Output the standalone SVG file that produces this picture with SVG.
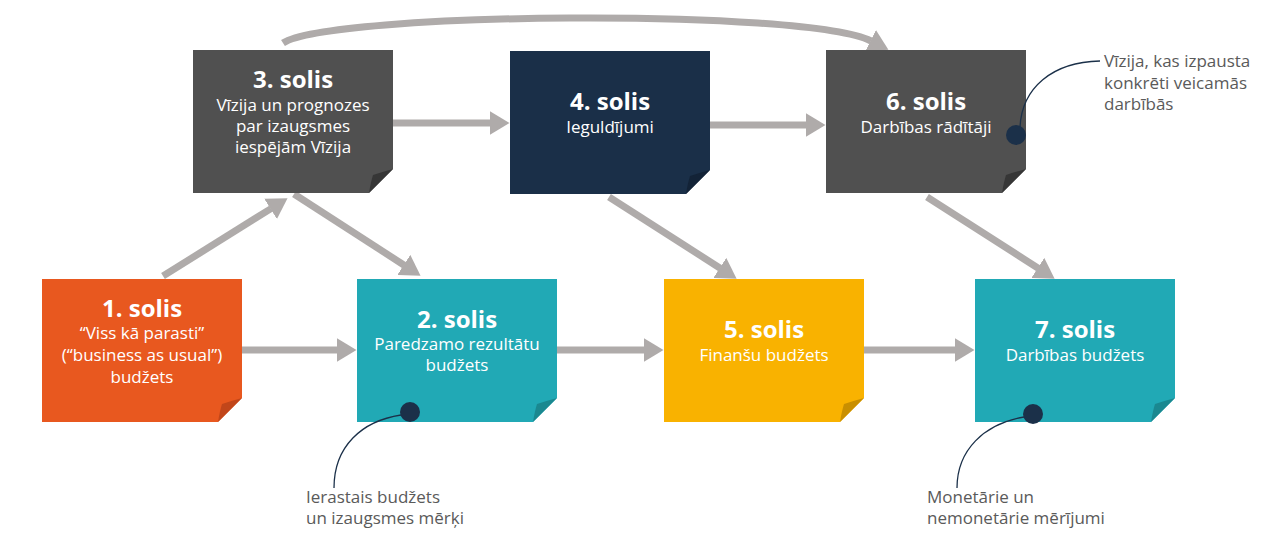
<svg xmlns="http://www.w3.org/2000/svg" width="1264" height="548" viewBox="0 0 1264 548">
<style>
.t{font-family:"Open Sans","Noto Sans","Liberation Sans",sans-serif;font-weight:700;font-size:24px;fill:#fff;text-anchor:middle}
.s{font-family:"Open Sans","Noto Sans","Liberation Sans",sans-serif;font-size:17px;fill:#fff;text-anchor:middle}
.c{font-family:"Open Sans","Noto Sans","Liberation Sans",sans-serif;font-size:17px;fill:#5a5a5a}
.arr{fill:none;stroke:#afabaa;stroke-width:7;marker-end:url(#ah)}
.lead{fill:none;stroke:#1b3049;stroke-width:1.3}
.dot{fill:#1b3049}
</style>
<defs>
<marker id="ah" viewBox="0 0 20 24" refX="0.5" refY="12" markerWidth="20" markerHeight="24" markerUnits="userSpaceOnUse" orient="auto">
<path d="M0,0 L20,12 L0,24 Z" fill="#afabaa"/>
</marker>
</defs>
<rect width="1264" height="548" fill="#fff"/>

<g id="connectors">
<path class="arr" d="M283,43 C330,12 805,8 871,41"/>
<line class="arr" x1="242" y1="350" x2="337" y2="350"/>
<line class="arr" x1="557" y1="350" x2="644" y2="350"/>
<line class="arr" x1="864" y1="350" x2="955" y2="350"/>
<line class="arr" x1="393" y1="123" x2="490" y2="123"/>
<line class="arr" x1="710" y1="125" x2="806" y2="125"/>
<line class="arr" x1="163" y1="276" x2="271" y2="208.6"/>
<line class="arr" x1="294" y1="194" x2="404.2" y2="265.2"/>
<line class="arr" x1="609" y1="197" x2="720.2" y2="268.2"/>
<line class="arr" x1="927" y1="197" x2="1038.2" y2="268.2"/>
</g>

<g id="step1">
<path d="M42,279 H242 V398 L218,422 H42 Z" fill="#e8581f"/>
<path d="M242,398 L218,422 Q220,410 222,404 Q231,401 242,398 Z" fill="#c1461a"/>
<text class="t" x="142" y="317">1. solis</text>
<text class="s" x="142" y="339">“Viss kā parasti”</text>
<text class="s" x="142" y="361">(“business as usual”)</text>
<text class="s" x="142" y="383">budžets</text>
</g>

<g id="step2">
<path d="M357,279 H557 V398 L533,422 H357 Z" fill="#21a9b5"/>
<path d="M557,398 L533,422 Q535,410 537,404 Q546,401 557,398 Z" fill="#1a8890"/>
<text class="t" x="457" y="328">2. solis</text>
<text class="s" x="457" y="350">Paredzamo rezultātu</text>
<text class="s" x="457" y="371">budžets</text>
</g>

<g id="step3">
<path d="M193,50 H393 V169 L369,193 H193 Z" fill="#505050"/>
<path d="M393,169 L369,193 Q371,181 373,175 Q382,172 393,169 Z" fill="#363636"/>
<text class="t" x="293" y="88">3. solis</text>
<text class="s" x="293" y="111">Vīzija un prognozes</text>
<text class="s" x="293" y="132">par izaugsmes</text>
<text class="s" x="293" y="153">iespējām Vīzija</text>
</g>

<g id="step4">
<path d="M510,51 H710 V170 L686,194 H510 Z" fill="#1a2f48"/>
<path d="M710,170 L686,194 Q688,182 690,176 Q699,173 710,170 Z" fill="#132337"/>
<text class="t" x="610" y="110">4. solis</text>
<text class="s" x="610" y="133">Ieguldījumi</text>
</g>

<g id="step5">
<path d="M664,279 H864 V398 L840,422 H664 Z" fill="#f9b200"/>
<path d="M864,398 L840,422 Q842,410 844,404 Q853,401 864,398 Z" fill="#c98f00"/>
<text class="t" x="764" y="338">5. solis</text>
<text class="s" x="764" y="361">Finanšu budžets</text>
</g>

<g id="step6">
<path d="M826,50 H1026 V169 L1002,193 H826 Z" fill="#505050"/>
<path d="M1026,169 L1002,193 Q1004,181 1006,175 Q1015,172 1026,169 Z" fill="#363636"/>
<text class="t" x="926" y="110">6. solis</text>
<text class="s" x="926" y="133">Darbības rādītāji</text>
</g>

<g id="step7">
<path d="M975,279 H1175 V398 L1151,422 H975 Z" fill="#21a9b5"/>
<path d="M1175,398 L1151,422 Q1153,410 1155,404 Q1164,401 1175,398 Z" fill="#1a8890"/>
<text class="t" x="1075" y="338">7. solis</text>
<text class="s" x="1075" y="361">Darbības budžets</text>
</g>

<g id="note6">
<path class="lead" d="M1020,127 C1022,88 1052,62 1100,61"/>
<circle class="dot" cx="1016" cy="135" r="10"/>
<text class="c" x="1104" y="67">Vīzija, kas izpausta</text>
<text class="c" x="1104" y="89">konkrēti veicamās</text>
<text class="c" x="1104" y="110">darbībās</text>
</g>

<g id="note2">
<path class="lead" d="M401,415 C362,421 334,446 334,488"/>
<circle class="dot" cx="410" cy="412" r="10"/>
<text class="c" x="306" y="503">Ierastais budžets</text>
<text class="c" x="306" y="524">un izaugsmes mērķi</text>
</g>

<g id="note7">
<path class="lead" d="M1024,417 C984,424 957,450 957,488"/>
<circle class="dot" cx="1033" cy="414" r="10"/>
<text class="c" x="927" y="503">Monetārie un</text>
<text class="c" x="927" y="524">nemonetārie mērījumi</text>
</g>
</svg>
